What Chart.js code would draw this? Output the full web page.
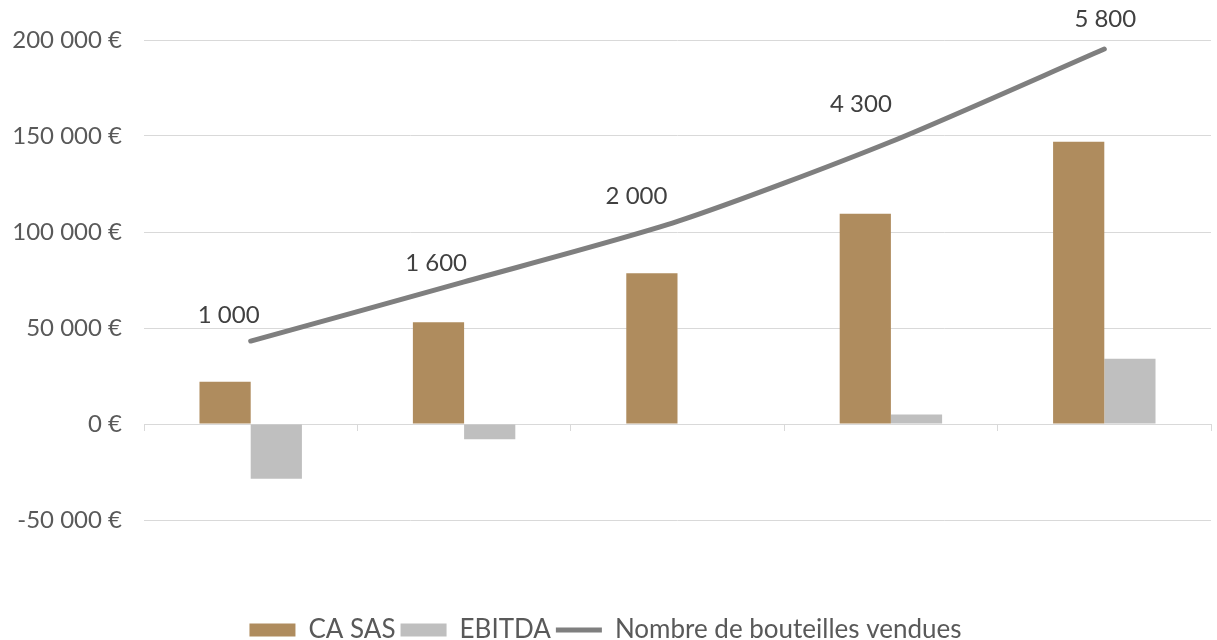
<!DOCTYPE html>
<html>
<head>
<meta charset="utf-8">
<script src="https://cdn.jsdelivr.net/npm/chart.js@4/dist/chart.umd.min.js"></script>
<style>
  body { margin: 0; background: #fff; }
</style>
</head>
<body>
<canvas id="chart" width="1217" height="640"></canvas>
<script>
// five years, no labels shown under the axis
const years = ["", "", "", "", ""];
const caSas = [22000, 53000, 78500, 109500, 147000];
const ebitda = [-28500, -8000, 0, 5000, 34000];
// line drawn on the euro scale, its labels give the bottle count
const bottlesLine = [43200, 74000, 105500, 147000, 195300];
const bottlesLabels = ["1 000", "1 600", "2 000", "4 300", "5 800"];

const font = "Lato";

function euros(v) {
  let s = Math.abs(v).toString().replace(/\B(?=(\d{3})+(?!\d))/g, " ");
  return (v < 0 ? "-" : "") + s + " €";
}

// draws the bottle counts near the line
const lineLabels = {
  id: "lineLabels",
  afterDatasetsDraw(chart, args, opts) {
    const meta = chart.getDatasetMeta(2);
    const ctx = chart.ctx;
    ctx.save();
    ctx.font = "24px " + font;
    ctx.fillStyle = "#404040";
    ctx.textAlign = "center";
    ctx.textBaseline = "middle";
    meta.data.forEach((pt, i) => {
      const off = opts.offsets[i];
      ctx.fillText(bottlesLabels[i], pt.x + off[0], pt.y + off[1]);
    });
    ctx.restore();
  }
};

new Chart(document.getElementById("chart").getContext("2d"), {
  type: "bar",
  data: {
    labels: years,
    datasets: [
      {
        label: "CA SAS",
        data: caSas,
        backgroundColor: "#AF8C5E",
        barPercentage: 1,
        categoryPercentage: 0.48,
      },
      {
        label: "EBITDA",
        data: ebitda,
        backgroundColor: "#BFBFBF",
        barPercentage: 1,
        categoryPercentage: 0.48,
      },
      {
        type: "line",
        label: "Nombre de bouteilles vendues",
        data: bottlesLine,
        borderColor: "#7F7F7F",
        backgroundColor: "#7F7F7F",
        borderWidth: 5,
        borderCapStyle: "round",
        pointRadius: 0,
        tension: 0.25,
        clip: false,
      },
    ],
  },
  options: {
    responsive: false,
    animation: false,
    layout: {
      padding: { top: 40, right: 6, left: 0, bottom: -13 },
    },
    scales: {
      x: {
        position: { y: 0 },
        offset: true,
        grid: {
          drawOnChartArea: false,
          drawTicks: true,
          tickLength: 6,
          color: "#D9D9D9",
        },
        border: { display: true, color: "#D9D9D9" },
        ticks: { display: false },
      },
      xPad: {
        type: "category",
        position: "bottom",
        grid: { display: false },
        border: { display: false },
        ticks: { display: false },
        afterFit(scale) {
          scale.height = 92;
        },
      },
      y: {
        min: -50000,
        max: 200000,
        ticks: {
          stepSize: 50000,
          padding: 22,
          color: "#595959",
          font: { family: font, size: 24 },
          callback: (v) => euros(v),
        },
        grid: { color: "#D9D9D9", drawTicks: false },
        border: { display: false },
        afterFit(scale) {
          scale.width = 144;
        },
      },
    },
    plugins: {
      tooltip: { enabled: false },
      legend: {
        position: "bottom",
        labels: {
          usePointStyle: true,
          pointStyleWidth: 46,
          boxHeight: 13,
          padding: 5,
          color: "#595959",
          font: { family: font, size: 26, lineHeight: 1 },
          generateLabels(chart) {
            const items = Chart.defaults.plugins.legend.labels.generateLabels(chart);
            items.forEach((it) => {
              const ds = chart.data.datasets[it.datasetIndex];
              it.pointStyle = ds.type === "line" ? "line" : "rect";
            });
            return items;
          },
        },
      },
      lineLabels: {
        offsets: [[-22, -26], [-28, -19], [-41, -25], [-30, -37], [1, -30]],
      },
    },
  },
  plugins: [lineLabels],
});
</script>
</body>
</html>
